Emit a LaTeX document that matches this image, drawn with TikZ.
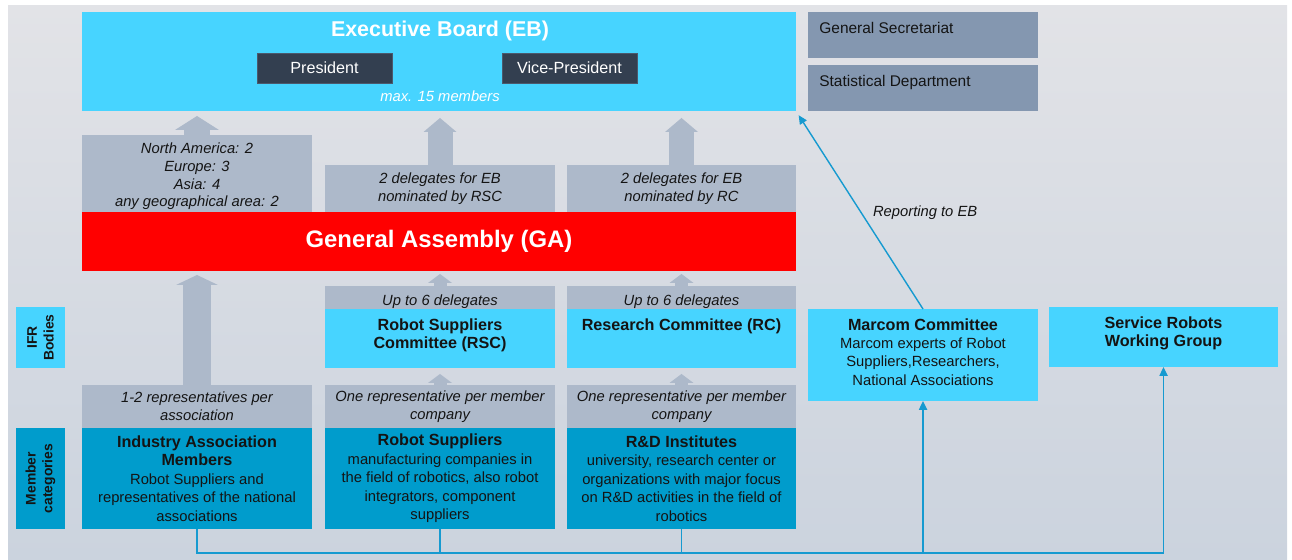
\documentclass[tikz,border=0pt]{standalone}
\usepackage{fontspec}
\setmainfont{Liberation Sans}
\usetikzlibrary{arrows.meta,positioning}

\definecolor{cyanbox}{RGB}{71,212,255}
\definecolor{greybox}{RGB}{173,185,202}
\definecolor{memberbox}{RGB}{0,156,204}
\definecolor{darkbox}{RGB}{51,63,80}
\definecolor{staffbox}{RGB}{132,151,176}
\definecolor{linkblue}{RGB}{22,154,208}
\definecolor{bgtop}{RGB}{226,227,231}
\definecolor{bgbot}{RGB}{203,211,222}
\definecolor{txt}{RGB}{20,20,20}
\newcommand{\boxtitle}[1]{{\fontsize{9.2}{10.8}\selectfont\bfseries #1}}

\begin{document}
\begin{tikzpicture}[x=0.02cm,y=-0.02cm]
            \tikzset{fat/.style n args={3}{draw=greybox,line width=#1,-{Triangle[width=#2,length=#3,line width=0pt]}}}
             \tikzstyle{panel} = [fill,inner sep=0pt,outer sep=0pt,align=center,text=txt,minimum width=4.6cm,font=\fontsize{8.4}{10.4}\selectfont]
             \tikzstyle{body} = [panel,fill=cyanbox]
             \tikzstyle{quota} = [panel,fill=greybox,font=\fontsize{8.4}{10.2}\selectfont\itshape]
             \tikzstyle{member} = [panel,fill=memberbox,minimum height=2.02cm,font=\fontsize{8.4}{10.5}\selectfont]
             \tikzstyle{staff} = [panel,fill=staffbox,minimum height=0.92cm]
             \tikzstyle{officer} = [fill=darkbox,draw=darkbox!70!staffbox,text=white,minimum width=2.7cm,minimum height=0.6cm,font=\fontsize{9.2}{11}\selectfont]
             \tikzstyle{sidetag} = [rotate=90,inner sep=0pt,align=center,text=txt,minimum height=0.98cm,font=\fontsize{7.9}{9.6}\selectfont\bfseries]
             \tikzstyle{boxtext} = [inner sep=0pt,align=center,text=txt,font=\fontsize{8.4}{10.5}\selectfont]
             \tikzstyle{link} = [draw=linkblue,line width=1.1pt]
             \tikzstyle{linkarrow} = [link,-{Triangle[width=4.5pt,length=5pt]}]
		\useasboundingbox (0,0) rectangle (1292,560);
		\shade[top color=bgtop,bottom color=bgbot] (8,6) rectangle (1287,560);
		% Executive board
		\node[body,minimum width=14.28cm,minimum height=1.98cm] (eb) at (439,61.5) {};
		\node[text=white,font=\fontsize{12.2}{14}\selectfont\bfseries] (ebtitle) at (440,31) {Executive Board (EB)};
		\node[officer] (pres) at (324.5,68) {President};
		\node[officer] (vice) at (569.5,68) {Vice-President};
		\node[text=white,font=\fontsize{8.4}{10}\selectfont\itshape] (ebsize) at (440,96) {max. 15 members};
		% Staff
		\node[staff] (gs) at (923,35) {};
		\node[staff] (sd) at (923,88) {};
		\node[boxtext,font=\fontsize{8.8}{10}\selectfont,below right=0.19cm and 0.22cm of gs.north west] (gstxt) {General Secretariat};
		\node[boxtext,font=\fontsize{8.8}{10}\selectfont,below right=0.19cm and 0.22cm of sd.north west] (sdtxt) {Statistical Department};
		% Seats on the board
		\node[quota,minimum height=1.54cm] (q1) at (197,173.5) {};
		\node[boxtext,font=\fontsize{8.4}{10.1}\selectfont\itshape] (q1txt) at (197,176.5) {North America: 2\\Europe: 3\\Asia: 4\\any geographical area: 2};
		\node[quota,minimum height=0.94cm] (q2) at (440,188.5) {2 delegates for EB\\nominated by RSC};
		\node[quota,minimum height=0.94cm] (q3) at (681.5,188.5) {2 delegates for EB\\nominated by RC};
		% General assembly
		\node[panel,fill=red,minimum width=14.28cm,minimum height=1.18cm,text=white,font=\fontsize{13.6}{16}\selectfont\bfseries] (ga) at (439,241.5) {General Assembly (GA)};
		% IFR bodies
		\node[quota,minimum height=0.46cm,text height=10.5pt,text depth=1pt] (d2) at (440,297.5) {Up to 6 delegates};
		\node[quota,minimum height=0.46cm,text height=10.5pt,text depth=1pt] (d3) at (681.5,297.5) {Up to 6 delegates};
		\node[body,minimum height=1.18cm] (rsc) at (440,338.5) {};
		\node[body,minimum height=1.18cm] (rc) at (681.5,338.5) {};
		\node[body,minimum height=1.84cm] (marcom) at (923,355) {};
		\node[body,minimum height=1.2cm] (srwg) at (1163.5,337) {};
		\node[boxtext,below=0.18cm of rsc.north] (rsctxt) {\boxtitle{Robot Suppliers}\\\boxtitle{Committee (RSC)}};
		\node[boxtext,below=0.18cm of rc.north] (rctxt) {\boxtitle{Research Committee (RC)}};
		\node[boxtext,below=0.18cm of marcom.north] (marcomtxt) {\boxtitle{Marcom Committee}\\Marcom experts of Robot\\Suppliers,Researchers,\\National Associations};
		\node[boxtext,below=0.18cm of srwg.north] (srwgtxt) {\boxtitle{Service Robots}\\\boxtitle{Working Group}};
		% Member categories
		\node[quota,minimum height=0.86cm] (r1) at (197,406.5) {1-2 representatives per\\association};
		\node[quota,minimum height=0.86cm] (r2) at (440,406.5) {One representative per member\\company};
		\node[quota,minimum height=0.86cm] (r3) at (681.5,406.5) {One representative per member\\company};
		\node[member] (m1) at (197,478.5) {\boxtitle{Industry Association}\\\boxtitle{Members}\\Robot Suppliers and\\representatives of the national\\associations};
		\node[member] (m2) at (440,478.5) {\boxtitle{Robot Suppliers}\\manufacturing companies in\\the field of robotics, also robot\\integrators, component\\suppliers};
		\node[member] (m3) at (681.5,478.5) {\boxtitle{R\&D Institutes}\\university, research center or\\organizations with major focus\\on R\&D activities in the field of\\robotics};
		% Side tags
		\node[sidetag,fill=cyanbox,minimum width=1.22cm] (ifr) at (40.5,337.5) {IFR\\Bodies};
		\node[sidetag,fill=memberbox,minimum width=2.02cm] (mcat) at (40.5,478.5) {Member\\categories};
		% Block arrows
		\draw[fat={0.54cm}{0.88cm}{0.28cm},shorten >=0.1cm] (q1.north) -- (q1.north |- eb.south);
		\draw[fat={0.5cm}{0.66cm}{0.28cm},shorten >=0.14cm] (q2.north) -- (q2.north |- eb.south);
		\draw[fat={0.5cm}{0.66cm}{0.28cm},shorten >=0.14cm] (q3.north) -- (q3.north |- eb.south);
		\draw[fat={0.56cm}{0.84cm}{0.2cm},shorten >=0.08cm] (r1.north) -- (r1.north |- ga.south);
		\draw[fat={0.26cm}{0.48cm}{0.18cm},shorten >=0.06cm] (d2.north) -- (d2.north |- ga.south);
		\draw[fat={0.26cm}{0.48cm}{0.18cm},shorten >=0.06cm] (d3.north) -- (d3.north |- ga.south);
		\draw[fat={0.26cm}{0.48cm}{0.18cm},shorten >=0.12cm] (r2.north) -- (r2.north |- rsc.south);
		\draw[fat={0.26cm}{0.48cm}{0.18cm},shorten >=0.12cm] (r3.north) -- (r3.north |- rc.south);
		% Links
		\coordinate (bus) at (0,553);
		\draw[linkarrow] (m1.south) |- (bus -| srwg.south) -- (srwg.south);
		\draw[link] (m2.south) -- (m2.south |- bus);
		\draw[link] (m3.south) -- (m3.south |- bus);
		\draw[linkarrow] (marcom.south |- bus) -- (marcom.south);
		\draw[linkarrow,line width=0.8pt,shorten >=0.1cm] (marcom.north) -- (eb.south east) node[pos=0.485,right=0.22cm,inner sep=0pt,text=txt,font=\fontsize{8.4}{10}\selectfont\itshape] (rep) {Reporting to EB};
		\end{tikzpicture}
\end{document}
